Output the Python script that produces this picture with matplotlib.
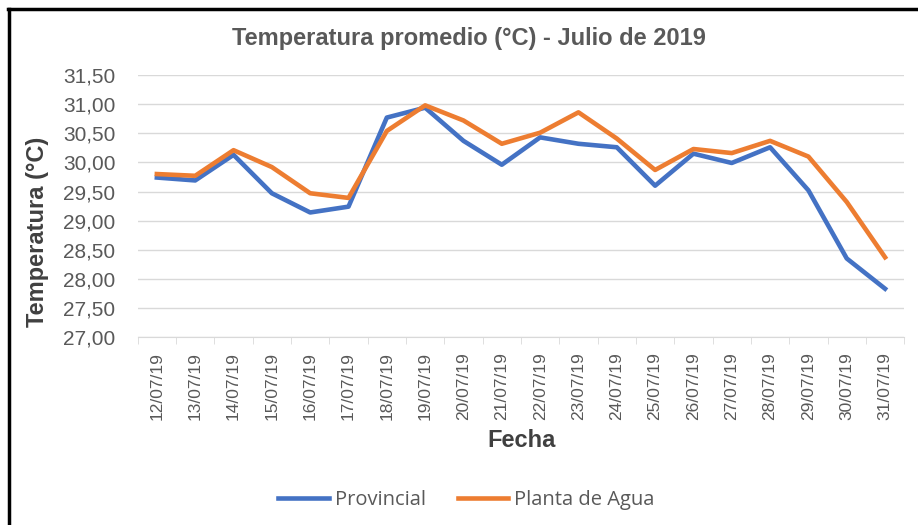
import matplotlib
matplotlib.use("Agg")
import matplotlib.pyplot as plt
from matplotlib.lines import Line2D

plt.rcParams['font.family'] = ['Liberation Sans', 'DejaVu Sans']

fechas = ['12/07/19', '13/07/19', '14/07/19', '15/07/19', '16/07/19',
          '17/07/19', '18/07/19', '19/07/19', '20/07/19', '21/07/19',
          '22/07/19', '23/07/19', '24/07/19', '25/07/19', '26/07/19',
          '27/07/19', '28/07/19', '29/07/19', '30/07/19', '31/07/19']
provincial = [29.74, 29.69, 30.13, 29.47, 29.14, 29.24, 30.77, 30.94, 30.37, 29.96,
              30.43, 30.32, 30.26, 29.60, 30.15, 29.99, 30.26, 29.52, 28.35, 27.83]
planta_agua = [29.80, 29.77, 30.21, 29.92, 29.47, 29.39, 30.54, 30.98, 30.72, 30.32,
               30.51, 30.86, 30.41, 29.87, 30.23, 30.16, 30.37, 30.10, 29.32, 28.37]
y_ticks = [27.0, 27.5, 28.0, 28.5, 29.0, 29.5, 30.0, 30.5, 31.0, 31.5]

gris = '#595959'

fig = plt.figure(figsize=(9.18, 5.25), dpi=100)
ax = fig.add_axes([0.150, 0.358, 0.835, 0.499])

x = list(range(len(fechas)))
ax.plot(x, provincial, color='#4472C4', lw=3.3, label='Provincial', solid_joinstyle='round')
ax.plot(x, planta_agua, color='#ED7D31', lw=3.3, label='Planta de Agua', solid_joinstyle='round')

ax.set_xlim(-0.5, len(fechas) - 0.5)
ax.set_ylim(27.0, 31.5)
ax.set_yticks(y_ticks)
ax.set_yticklabels([f"{v:.2f}".replace('.', ',') for v in y_ticks])
ax.set_xticks(x)
ax.set_xticklabels(fechas, rotation=90)
ax.set_xticks([i - 0.5 for i in range(len(fechas) + 1)], minor=True)

ax.grid(axis='y', color='#D9D9D9', lw=1)
ax.set_axisbelow(True)
for s in ['top', 'right', 'left']:
    ax.spines[s].set_visible(False)
ax.spines['bottom'].set_color('#D9D9D9')
ax.tick_params(axis='y', length=0, labelsize=15, labelcolor=gris, pad=16)
ax.tick_params(axis='x', which='major', length=0, labelsize=12.5, labelcolor=gris, pad=11)
ax.tick_params(axis='x', which='minor', length=5, color='#D9D9D9')

fig.text(469 / 918, 1 - 38 / 525, 'Temperatura promedio (°C) - Julio de 2019', fontsize=17,
         fontweight='bold', color=gris, ha='center', va='center')
ax.set_xlabel('Fecha', fontsize=17, fontweight='bold', color='#404040', va='center')
ax.xaxis.set_label_coords(0.501, -0.393)
ax.set_ylabel('Temperatura (°C)', fontsize=17, fontweight='bold', color='#404040', va='center')
ax.yaxis.set_label_coords(-0.1305, 0.40)

fig.legend(loc='center', bbox_to_anchor=(0.508, 0.047), ncol=2, frameon=False,
           handlelength=2.5, handletextpad=0.3, columnspacing=1.6,
           prop={'family': 'Open Sans', 'size': 14.5}, labelcolor=gris)

# marco del grafico
fig.add_artist(Line2D([8 / 918, 1], [1 - 9 / 525, 1 - 9 / 525], color='black', lw=2.5,
                      transform=fig.transFigure))
fig.add_artist(Line2D([9 / 918, 9 / 918], [0, 1 - 9 / 525], color='black', lw=2.5,
                      transform=fig.transFigure))

fig.savefig('out.png', dpi=100)
